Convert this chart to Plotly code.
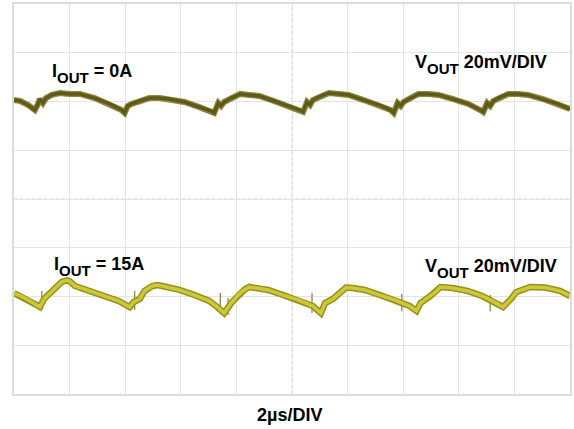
import plotly.graph_objects as go

# Time in microseconds (2 us/div, 10 divisions), voltage in mV (20 mV/div, 8 divisions, centre = 0)
t_top = [0.00, 0.22, 0.50, 0.75, 0.86, 0.93, 1.04, 1.15, 1.36, 1.65, 2.01, 2.37, 2.90, 3.44,
         3.87, 3.98, 4.09, 4.23, 4.52, 4.87, 5.23, 5.59, 6.13, 6.67, 7.10, 7.20, 7.35, 7.45,
         7.56, 7.81, 8.14, 8.46, 8.82, 9.35, 9.89, 10.29, 10.40, 10.54, 10.65, 10.75, 11.04,
         11.33, 11.69, 12.04, 12.58, 13.12, 13.55, 13.66, 13.80, 13.91, 14.01, 14.26, 14.55,
         14.91, 15.27, 15.80, 16.34, 16.77, 16.88, 17.02, 17.13, 17.24, 17.49, 17.78, 18.13,
         18.49, 19.03, 19.57, 20.00]
v_top = [40.6, 40.2, 38.6, 36.5, 38.9, 41.0, 39.4, 41.4, 42.7, 43.5, 43.1, 43.1, 41.4, 39.0,
         36.5, 35.3, 38.2, 39.0, 40.2, 41.4, 41.4, 41.0, 39.8, 37.7, 36.1, 35.3, 39.4, 38.2,
         39.8, 41.4, 43.1, 42.7, 42.3, 40.2, 38.2, 36.5, 35.7, 39.8, 38.6, 40.6, 42.3, 43.5,
         43.1, 42.7, 40.6, 38.6, 36.5, 35.3, 39.4, 38.2, 39.8, 41.4, 43.1, 43.1, 42.7, 41.0,
         39.0, 36.5, 35.7, 39.4, 38.2, 40.2, 41.8, 43.1, 43.1, 42.7, 41.0, 39.0, 36.9]

t_bot = [0.00, 0.39, 0.75, 0.93, 1.08, 1.22, 1.47, 1.72, 1.90, 2.01, 2.19, 2.72, 3.26, 3.76,
         4.16, 4.30, 4.52, 4.70, 4.98, 5.16, 5.41, 5.95, 6.49, 7.02, 7.31, 7.56, 7.81, 8.10,
         8.28, 8.46, 8.71, 9.14, 9.68, 10.22, 10.75, 11.04, 11.19, 11.47, 11.76, 11.94, 12.19,
         12.62, 13.16, 13.69, 14.23, 14.48, 14.62, 14.98, 15.16, 15.34, 15.77, 16.31, 16.84,
         17.20, 17.42, 17.59, 17.88, 18.06, 18.56, 19.10, 19.64, 20.00]
v_bot = [-38.6, -40.6, -43.1, -44.3, -41.0, -39.4, -36.5, -34.0, -33.4, -33.8, -35.7, -37.7,
         -39.8, -41.8, -44.3, -42.3, -41.0, -37.7, -35.7, -35.3, -35.9, -37.3, -39.4, -41.8,
         -44.3, -46.8, -42.7, -39.0, -37.3, -36.1, -36.5, -37.3, -39.4, -41.4, -43.9, -46.8,
         -42.7, -41.0, -38.2, -36.3, -36.5, -37.3, -39.4, -41.4, -43.9, -45.9, -42.7, -39.8,
         -38.2, -36.1, -36.5, -37.7, -39.8, -41.8, -43.1, -44.3, -41.0, -38.2, -36.1, -36.3,
         -37.7, -39.8]

# Switching glitches on the loaded trace: time, low, high (mV)
glitch_t = [1.00, 4.34, 7.42, 7.70, 10.72, 13.95, 17.13]
glitch_lo = [-45.5, -45.5, -46.8, -47.6, -46.8, -46.0, -46.0]
glitch_hi = [-37.7, -37.7, -38.6, -40.6, -38.6, -39.0, -39.4]

# Trigger position marker (below the screen)
trigger_t = [3.98]
trigger_v = [-81.8]

SUB = "<sub><sub><span style='font-size:15px'>OUT</span></sub></sub>"
labels = {
    "top_i": "I" + SUB + " = 0A",
    "bot_i": "I" + SUB + " = 15A",
    "scale": "V" + SUB + " 20mV/DIV",
    "time": "2µs/DIV",
}

fig = go.Figure()

# top trace (dark olive with lighter halo)
fig.add_trace(go.Scatter(x=t_top, y=v_top, mode="lines",
                         line=dict(color="rgb(140,135,60)", width=6), hoverinfo="skip"))
fig.add_trace(go.Scatter(x=t_top, y=v_top, mode="lines",
                         line=dict(color="rgb(95,90,25)", width=3.5), hoverinfo="skip"))

# glitches
gx, gy = [], []
for t, lo, hi in zip(glitch_t, glitch_lo, glitch_hi):
    gx += [t, t, None]
    gy += [lo, hi, None]
fig.add_trace(go.Scatter(x=gx, y=gy, mode="lines",
                         line=dict(color="rgb(140,138,70)", width=1.3), hoverinfo="skip"))

# bottom trace (yellow olive with darker edge)
fig.add_trace(go.Scatter(x=t_bot, y=v_bot, mode="lines",
                         line=dict(color="rgb(150,145,30)", width=6.5), hoverinfo="skip"))
fig.add_trace(go.Scatter(x=t_bot, y=v_bot, mode="lines",
                         line=dict(color="rgb(205,200,55)", width=3.5), hoverinfo="skip"))

# trigger marker
fig.add_trace(go.Scatter(x=trigger_t, y=trigger_v, mode="markers", cliponaxis=False,
                         marker=dict(symbol="triangle-up", size=5, color="rgb(200,195,90)"),
                         hoverinfo="skip"))

font = dict(family="Liberation Sans, Arial, sans-serif", size=18, color="black")
fig.add_annotation(text="<b>" + labels["top_i"] + "</b>", xref="paper", yref="paper",
                   x=0.064, y=0.822, xanchor="left", yanchor="middle", showarrow=False, font=font)
fig.add_annotation(text="<b>" + labels["scale"] + "</b>", xref="paper", yref="paper",
                   x=0.718, y=0.845, xanchor="left", yanchor="middle", showarrow=False, font=font)
fig.add_annotation(text="<b>" + labels["bot_i"] + "</b>", xref="paper", yref="paper",
                   x=0.069, y=0.327, xanchor="left", yanchor="middle", showarrow=False, font=font)
fig.add_annotation(text="<b>" + labels["scale"] + "</b>", xref="paper", yref="paper",
                   x=0.736, y=0.322, xanchor="left", yanchor="middle", showarrow=False, font=font)
fig.add_annotation(text="<b>" + labels["time"] + "</b>", xref="paper", yref="paper",
                   x=0.496, y=-0.055, xanchor="center", yanchor="middle", showarrow=False,
                   font=dict(family="Liberation Sans, Arial, sans-serif", size=18, color="black"))

# dotted centre lines
fig.add_shape(type="line", x0=10, x1=10, y0=-80, y1=80, xref="x", yref="y",
              line=dict(color="rgb(205,205,205)", width=1, dash="dot"), layer="below")
fig.add_shape(type="line", x0=0, x1=20, y0=0, y1=0, xref="x", yref="y",
              line=dict(color="rgb(205,205,205)", width=1, dash="dot"), layer="below")

fig.update_xaxes(range=[0, 20], dtick=2, tick0=0, showgrid=True, gridcolor="rgb(228,228,228)",
                 gridwidth=1, zeroline=False, showticklabels=False, ticks="",
                 showline=True, mirror=True, linecolor="rgb(220,220,220)", linewidth=2)
fig.update_yaxes(range=[-80, 80], dtick=20, tick0=0, showgrid=True, gridcolor="rgb(228,228,228)",
                 gridwidth=1, zeroline=False, showticklabels=False, ticks="",
                 showline=True, mirror=True, linecolor="rgb(220,220,220)", linewidth=2)

fig.update_layout(width=574, height=429, margin=dict(l=14, r=2, t=4, b=35),
                  paper_bgcolor="white", plot_bgcolor="white", showlegend=False)

fig.write_html("out.html", config={"displayModeBar": False},
               post_script="document.body.style.margin='0';document.body.style.overflow='hidden';")
